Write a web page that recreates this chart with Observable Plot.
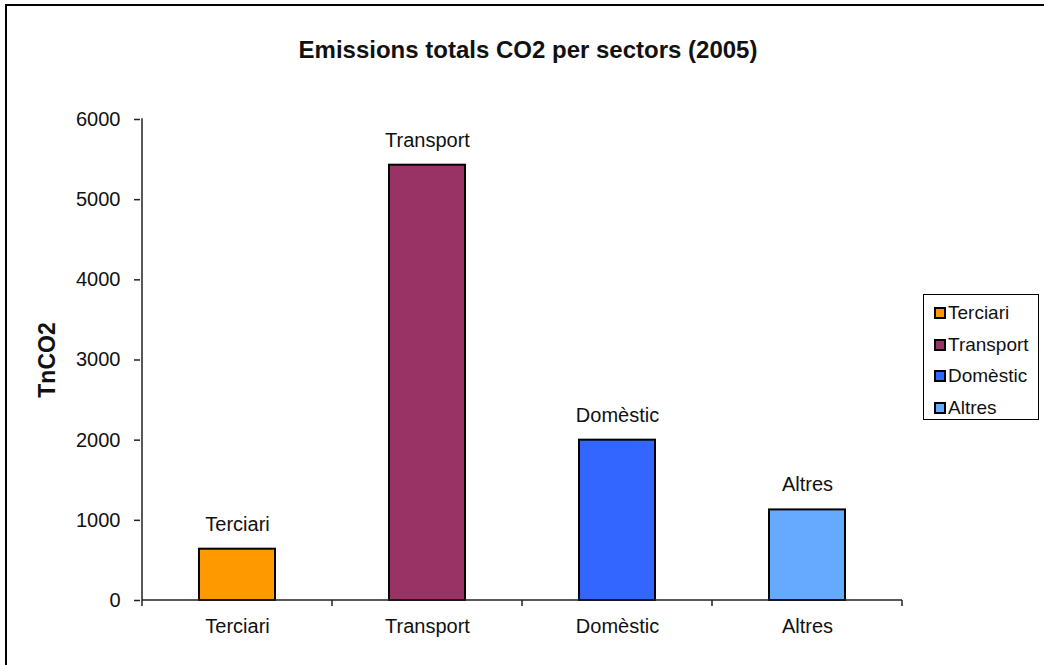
<!DOCTYPE html>
<html>
<head>
<meta charset="utf-8">
<script src="https://cdn.jsdelivr.net/npm/d3@7"></script>
<script src="https://cdn.jsdelivr.net/npm/@observablehq/plot@0.6"></script>
<style>
  html, body { margin: 0; padding: 0; background: #fff; }
  #chart { position: relative; width: 1044px; height: 665px; overflow: hidden; font-family: "Liberation Sans", Arial, Helvetica, sans-serif; }
  #edge { position: absolute; left: 5px; top: 4px; right: -10px; bottom: -10px; border-left: 2px solid #000; border-top: 2px solid #000; pointer-events: none; }
  #chart svg { position: absolute; left: 0; top: 0; }
  #legend { position: absolute; left: 923px; top: 294px; width: 116px; height: 126px; border: 1px solid #000; background: #fff; box-sizing: border-box; }
  .item { position: absolute; left: 10px; height: 22px; display: flex; align-items: center; font-size: 19px; color: #111; white-space: nowrap; }
  .sw { width: 8px; height: 8px; border: 2px solid #000; margin-right: 2px; }
</style>
</head>
<body>
<div id="chart"><div id="edge"></div></div>
<script>
// Total CO2 emissions by sector, 2005 (tonnes of CO2)
const sectors = ["Terciari", "Transport", "Domèstic", "Altres"];
const emissions = [640, 5430, 2000, 1130];
const colors = ["#FF9900", "#993366", "#3366FF", "#66AAFF"];
const yTicks = [0, 1000, 2000, 3000, 4000, 5000, 6000];

const data = sectors.map((s, i) => ({sector: s, value: emissions[i]}));

// Axis lines and category ticks sitting between the bars
function axisLines(index, scales, values, dims) {
  const g = d3.create("svg:g").attr("stroke", "#222").attr("stroke-width", 1.5).attr("fill", "none");
  const x = scales.x, y = scales.y;
  const step = x(sectors[1]) - x(sectors[0]);
  const bw = typeof x.bandwidth === "function" ? x.bandwidth() : (x.bandwidth || 0);
  const centers = sectors.map(s => x(s) + bw / 2);
  const bounds = [centers[0] - step / 2, ...centers.map(c => c + step / 2)];
  const y0 = y(0);
  g.append("line").attr("x1", bounds[0]).attr("x2", bounds[bounds.length - 1]).attr("y1", y0).attr("y2", y0);
  g.append("line").attr("x1", bounds[0]).attr("x2", bounds[0]).attr("y1", y(yTicks[yTicks.length - 1]) - 0.75).attr("y2", y0);
  for (const b of bounds) g.append("line").attr("x1", b).attr("x2", b).attr("y1", y0).attr("y2", y0 + 6);
  return g.node();
}

const plot = Plot.plot({
  width: 1044,
  height: 665,
  marginLeft: 140,
  marginRight: 141,
  marginTop: 119,
  marginBottom: 65,
  style: {fontFamily: "'Liberation Sans', Arial, Helvetica, sans-serif", fontSize: "20px", color: "#111", background: "transparent"},
  x: {domain: sectors, paddingInner: 0.6, paddingOuter: 0.3, label: null},
  y: {domain: [0, 6000], label: null},
  color: {domain: sectors, range: colors},
  marks: [
    Plot.barY(data, {x: "sector", y: "value", fill: "sector", stroke: "#000", strokeWidth: 2}),
    Plot.text(data, {x: "sector", y: "value", text: "sector", dy: -25, lineAnchor: "middle", fontSize: 20, fill: "#111"}),
    Plot.axisY({ticks: yTicks, tickFormat: d3.format("d"), tickSize: 6, tickPadding: 14, fontSize: 20, stroke: "#222", strokeWidth: 1.5}),
    Plot.axisX({tickSize: 0, tickPadding: 18, fontSize: 20}),
    axisLines,
    Plot.text(["TnCO2"], {frameAnchor: "left", textAnchor: "middle", dx: -93, rotate: -90, fontWeight: "bold", fontSize: 23, fill: "#111"}),
    Plot.text(["Emissions totals CO2 per sectors (2005)"], {frameAnchor: "top", dx: 6, dy: -79, fontWeight: "bold", fontSize: 24, fill: "#111"})
  ]
});

const chart = document.getElementById("chart");
chart.insertBefore(plot, chart.firstChild);

// Legend box on the right
const legend = document.createElement("div");
legend.id = "legend";
sectors.forEach((s, i) => {
  const item = document.createElement("div");
  item.className = "item";
  item.style.top = (7 + i * 31.5) + "px";
  const sw = document.createElement("span");
  sw.className = "sw";
  sw.style.background = colors[i];
  const label = document.createElement("span");
  label.textContent = s;
  item.appendChild(sw);
  item.appendChild(label);
  legend.appendChild(item);
});
chart.appendChild(legend);
</script>
</body>
</html>
